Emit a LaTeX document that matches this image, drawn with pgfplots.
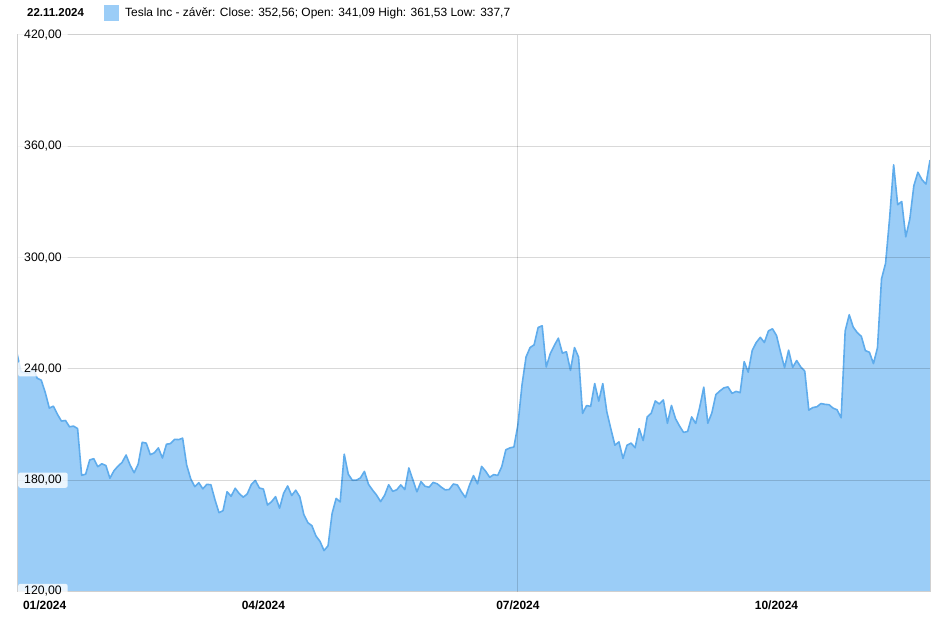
\documentclass[border=0pt]{standalone}
\usepackage{fontspec}
\setmainfont{Liberation Sans}
\usepackage{pgfplots}
\usepackage{pgfplotstable}
\pgfplotsset{compat=1.18}
\definecolor{fillblue}{RGB}{155,205,247}
\definecolor{lineblue}{RGB}{95,172,236}
\definecolor{framegray}{RGB}{208,208,208}
\pgfplotstableread{
close
248.42
238.45
237.93
237.49
240.45
234.96
233.94
227.22
218.89
219.91
215.55
211.88
212.19
208.80
209.14
207.83
182.63
183.25
190.93
191.59
187.29
188.86
187.91
181.06
185.10
187.58
189.56
193.57
188.13
184.02
188.71
200.45
199.95
193.76
194.77
197.41
191.97
199.40
199.73
202.04
201.88
202.64
188.14
180.74
176.54
178.65
175.34
177.77
177.54
169.48
162.50
163.57
173.80
171.32
175.66
172.82
170.83
172.63
177.67
179.83
175.79
175.22
166.63
168.38
171.11
164.90
172.98
176.88
171.76
174.60
171.05
161.48
157.11
155.45
149.93
147.05
142.05
144.68
162.13
170.18
168.29
194.05
183.28
179.99
180.01
181.19
184.76
177.81
174.72
171.97
168.47
171.89
177.55
173.99
174.84
177.46
174.95
186.60
180.11
173.74
179.24
176.75
176.19
178.79
178.08
176.29
174.77
175.00
177.94
177.48
173.79
170.66
177.29
182.47
178.01
187.44
184.86
181.57
183.01
182.58
187.35
196.37
197.42
197.88
209.86
231.26
246.39
251.52
252.94
262.33
263.26
241.03
248.23
252.64
256.56
248.50
249.23
239.20
251.51
246.38
215.99
220.25
219.80
232.10
222.62
232.07
216.86
207.67
198.88
200.64
191.76
198.84
200.00
197.49
207.83
201.38
214.14
216.12
222.72
221.10
223.27
210.66
220.32
213.21
209.21
205.75
206.28
214.11
210.60
219.41
230.17
210.73
216.27
226.17
228.13
229.81
230.29
226.78
227.87
227.20
243.92
238.25
250.00
254.27
257.02
254.22
260.46
261.63
258.02
249.02
240.66
250.08
240.83
244.50
241.05
238.77
217.80
219.16
219.57
221.33
220.89
220.70
218.85
217.97
213.65
260.48
269.19
262.51
259.52
257.55
249.85
248.98
242.84
251.44
288.53
296.91
321.22
350.00
328.49
330.24
311.18
320.72
338.74
346.00
342.03
339.64
352.56
}\tsla
\begin{document}
\begin{tikzpicture}
\useasboundingbox (0,0) rectangle (952bp,618bp);
\begin{axis}[
  at={(17bp,26.5bp)}, anchor=south west,
  scale only axis, width=913bp, height=556.5bp,
  xmin=0, xmax=226, ymin=120, ymax=420,
  axis on top,
  axis line style={framegray, line width=1bp},
  major tick length=0pt,
  ytick={120,180,...,420},
  ymajorgrids,
  grid style={black, opacity=0.15, line width=1bp},
  /pgf/number format/fixed,
  /pgf/number format/fixed zerofill,
  /pgf/number format/precision=2,
  /pgf/number format/use comma,
  /pgf/number format/1000 sep={},
  /pgf/number format/assume math mode=true,
  yticklabel style={anchor=west, xshift=1bp, fill=white, fill opacity=0.8, text opacity=1,
    rounded corners=2bp, inner xsep=6bp, inner ysep=2.5bp,
    font=\fontsize{12.3}{14}\selectfont, text=black},
  xtick={0,61,124,188},
  xticklabels={\makebox[0pt][l]{\hspace{6bp}01/2024},04/2024,07/2024,10/2024},
  xticklabel style={font=\bfseries\fontsize{12}{14}\selectfont, text=black, inner sep=1bp, yshift=-8bp},
  extra x ticks={124},
  extra x tick labels={},
  extra x tick style={grid=major},
]
\addplot[draw=none, fill=fillblue] table[x expr=\coordindex, y=close]{\tsla} \closedcycle;
\addplot[lineblue, line width=1.6bp, line join=round] table[x expr=\coordindex, y=close]{\tsla};
\end{axis}
\node[anchor=west, inner sep=0pt, font=\bfseries\fontsize{11.5}{13}\selectfont] at (27bp,605bp) {22.11.2024};
\fill[fillblue] (104bp,597bp) rectangle (119bp,613bp);
\node[anchor=west, inner sep=0pt, font=\fontsize{12}{14}\selectfont] at (125bp,605bp) {Tesla Inc - závěr: Close: 352,56; Open: 341,09 High: 361,53 Low: 337,7};
\end{tikzpicture}
\end{document}
